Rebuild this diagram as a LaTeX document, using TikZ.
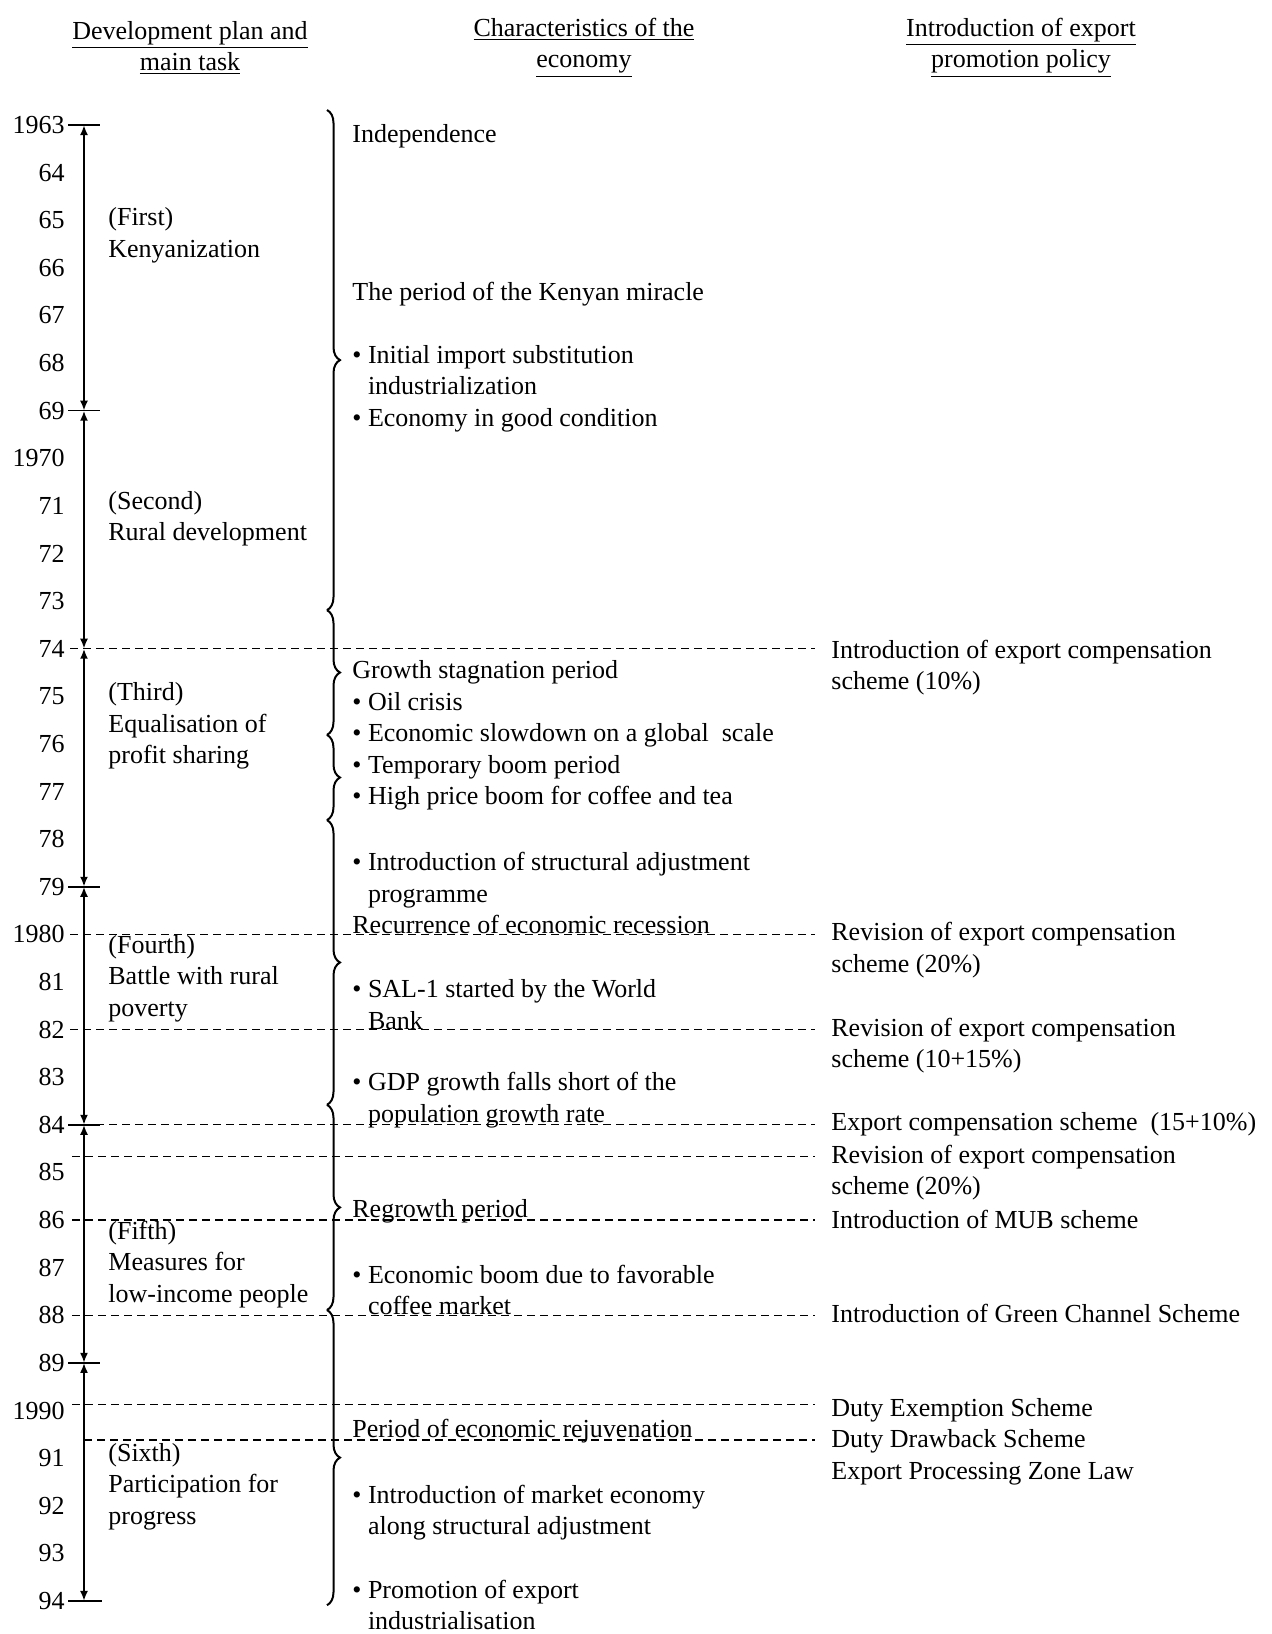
\documentclass[tikz,border=0pt]{standalone}
\usepackage{fontspec}
\setmainfont{Liberation Serif}
\usetikzlibrary{arrows.meta}
\usetikzlibrary{decorations.pathreplacing}
\tikzset{yr/.style = {anchor=east, inner sep=0}}
\tikzset{txt/.style = {anchor=west, align=left, inner sep=0}}
\tikzset{hdr/.style = {align=center, inner sep=0}}
\tikzset{lead/.style = {dash pattern=on 4pt off 2.5pt, line width=0.6pt, shorten >=8pt}}
\tikzset{planarrow/.style = {{Latex[length=5pt,width=4pt]}-{Latex[length=5pt,width=4pt]}, line width=1pt}}
\tikzset{yeartick/.style = {line width=0.8pt}}
\tikzset{brc/.style = {decorate, decoration={brace, amplitude=6.5pt}, line width=1pt}}
\newcommand{\bul}{\textbullet\ }
\newcommand{\hang}{\phantom{\textbullet\ }}

\begin{document}
\begin{tikzpicture}[x=0.5pt, y=-23.805pt, font=\fontsize{13}{15.75}\selectfont]
  \useasboundingbox (0,-2.6255) rectangle (1272,31.695);

  % column heads
  \node [hdr] (h1) at (190,-1.62) {\underline{Development plan and}\\\underline{main task}};
  \node [hdr] (h2) at (584,-1.62) {\underline{Characteristics of the}\\\underline{economy}};
  \node [hdr] (h3) at (1021,-1.62) {\underline{Introduction of export}\\\underline{promotion policy}};

  % years
  \foreach \k/\lab in {0/1963, 1/64, 2/65, 3/66, 4/67, 5/68, 6/69, 7/1970, 8/71, 9/72,
      10/73, 11/74, 12/75, 13/76, 14/77, 15/78, 16/79, 17/1980, 18/81, 19/82, 20/83,
      21/84, 22/85, 23/86, 24/87, 25/88, 26/89, 27/1990, 28/91, 29/92, 30/93, 31/94}
    \node [yr] (y\k) at (65,\k) {\lab};

  % plan periods
  \foreach \k in {0,6,11,16,21,26,31}
    \coordinate (b\k) at (84,\k);
  \draw [planarrow] (b0) -- (b6);
  \draw [planarrow] (b6) -- (b11);
  \draw [planarrow] (b11) -- (b16);
  \draw [planarrow] (b16) -- (b21);
  \draw [planarrow] (b21) -- (b26);
  \draw [planarrow] (b26) -- (b31);
  \foreach \k in {0,6,16,21,26}
    \draw [yeartick] (68,\k) -- (100,\k);
  \draw [yeartick] (68,31) -- (102,31);

  \node [txt] (p1) at (108,2.32) {(First)\\Kenyanization};
  \node [txt] (p2) at (108,8.27) {(Second)\\Rural development};
  \node [txt] (p3) at (108,12.62) {(Third)\\Equalisation of\\profit sharing};
  \node [txt] (p4) at (108,17.93) {(Fourth)\\Battle with rural\\poverty};
  \node [txt] (p5) at (108,23.93) {(Fifth)\\Measures for\\low-income people};
  \node [txt] (p6) at (108,28.60) {(Sixth)\\Participation for\\progress};

  % braces
  \draw [brc] (327,-0.315) -- (327,10.19);
  \draw [brc] (327,10.19) -- (327,12.81);
  \draw [brc] (327,12.81) -- (327,14.60);
  \draw [brc] (327,14.60) -- (327,20.58);
  \draw [brc] (327,20.58) -- (327,24.89);
  \draw [brc] (327,24.89) -- (327,31.09);

  \node [txt] (c1) at (352,0.24) {Independence};
  \node [txt] (c2) at (352,3.56) {The period of the Kenyan miracle};
  \node [txt] (c3) at (352,5.53) {\bul Initial import substitution\\\hang industrialization\\\bul Economy in good condition};
  \node [txt] (c4) at (352,12.82) {Growth stagnation period\\\bul Oil crisis\\\bul Economic slowdown on a global~ scale\\\bul Temporary boom period\\\bul High price boom for coffee and tea};
  \node [txt] (c5) at (352,16.14) {\bul Introduction of structural adjustment\\\hang programme\\Recurrence of economic recession};
  \node [txt] (c6) at (352,18.47) {\bul SAL-1 started by the World\\\hang Bank};
  \node [txt] (c7) at (352,20.48) {\bul GDP growth falls short of the\\\hang population growth rate};
  \node [txt] (c8) at (352,22.82) {Regrowth period};
  \node [txt] (c9) at (352,24.47) {\bul Economic boom due to favorable\\\hang coffee market};
  \node [txt] (c10) at (352,27.44) {Period of economic rejuvenation};
  \node [txt] (c11) at (352,29.15) {\bul Introduction of market economy\\\hang along structural adjustment};
  \node [txt] (c12) at (352,31.08) {\bul Promotion of export\\\hang industrialisation};

  \node [txt] (e1) at (831,11.40) {Introduction of export compensation\\scheme (10\%)};
  \node [txt] (e2) at (831,17.33) {Revision of export compensation\\scheme (20\%)};
  \node [txt] (e3) at (831,19.34) {Revision of export compensation\\scheme (10+15\%)};
  \node [txt] (e4) at (831,20.99) {Export compensation scheme~ (15+10\%)};
  \node [txt] (e5) at (831,22.00) {Revision of export compensation\\scheme (20\%)};
  \node [txt] (e6) at (831,22.99) {Introduction of MUB scheme};
  \node [txt] (e7) at (831,24.96) {Introduction of Green Channel Scheme};
  \node [txt] (e8) at (831,27.65) {Duty Exemption Scheme\\Duty Drawback Scheme\\Export Processing Zone Law};

  % dashed leaders
  \coordinate (d1) at (70,11);
  \coordinate (d2) at (70,17);
  \coordinate (d3) at (70,19);
  \coordinate (d4) at (70,21);
  \coordinate (d5) at (72,21.66);
  \coordinate (d6) at (72,23);
  \coordinate (d7) at (72,25);
  \coordinate (d8) at (72,26.88);
  \coordinate (d9) at (84,27.62);
  \draw [lead] (d1) -- (d1 -| e1.west);
  \draw [lead] (d2) -- (d2 -| e2.west);
  \draw [lead] (d3) -- (d3 -| e3.west);
  \draw [lead] (d4) -- (d4 -| e4.west);
  \draw [lead] (d5) -- (d5 -| e5.west);
  \draw [lead] (d6) -- (d6 -| e6.west);
  \draw [lead] (d7) -- (d7 -| e7.west);
  \draw [lead] (d8) -- (d8 -| e8.west);
  \draw [lead] (d9) -- (d9 -| e8.west);
\end{tikzpicture}
\end{document}
